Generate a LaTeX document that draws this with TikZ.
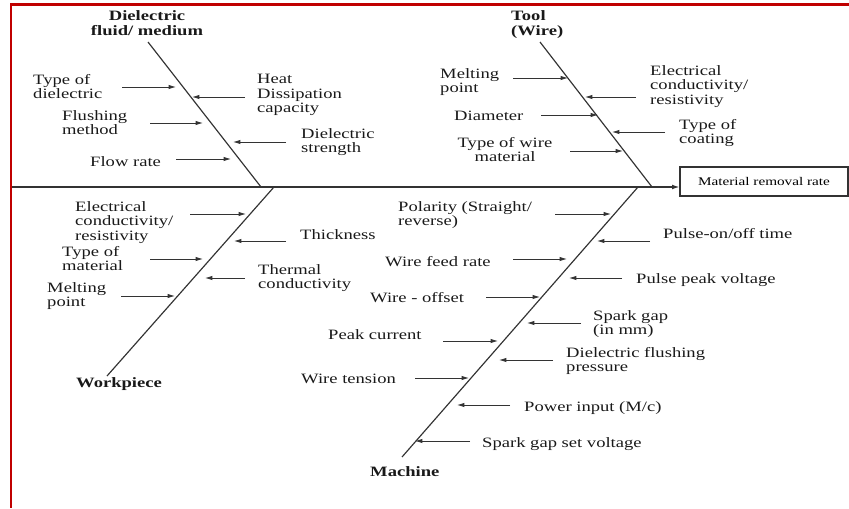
\documentclass[tikz,border=0pt]{standalone}
\usepackage{fontspec}
\setmainfont{Liberation Serif}[FakeStretch=1.3]
\usetikzlibrary{arrows.meta}
\definecolor{framered}{HTML}{C00000}
\definecolor{ink}{HTML}{333333}
\newcommand\causearrow[4]{%
  \coordinate (#1-s) at (#2,#4);
  \coordinate (#1-e) at (#3,#4);
  \draw[cause] (#1-s) -- (#1-e);}
\begin{document}
\begin{tikzpicture}[x=0.03cm,y=-0.03cm,
  lbl/.style={inner sep=0pt, anchor=north west, align=left, font=\fontsize{12.2}{12.4}\selectfont, text=black!90},
  lblc/.style={lbl, anchor=north, align=center},
  head/.style={lbl, font=\fontsize{12.2}{12.8}\selectfont\bfseries},
  headc/.style={head, anchor=north, align=center},
  bone/.style={draw=ink, line width=1pt},
  cause/.style={draw=ink, line width=0.7pt, -{Latex[length=2.2mm,width=1.3mm]}},
  frameline/.style={draw=framered, line width=1.8pt}]
\useasboundingbox (0,0) rectangle (849,508);
% frame
\coordinate (fr-tl) at (11,4.5);
\coordinate (fr-tr) at (849,4.5);
\coordinate (fr-bl) at (11,508);
\draw[frameline] (fr-tr) -- (fr-tl) -- (fr-bl);
% effect box and spine
\node[draw=ink, line width=0.9pt, minimum width=5.04cm, minimum height=0.87cm, inner sep=0pt,
      font=\fontsize{10}{12}\selectfont] (mrr) at (764,181.5) {Material removal rate};
\coordinate (tail) at (12,187);
\draw[bone, -{Latex[length=2.2mm,width=1.4mm]}] (tail) -- (tail -| mrr.west);
% bones
\coordinate (d1) at (148,42);  \coordinate (d2) at (261,187);
\coordinate (t1) at (540,42);  \coordinate (t2) at (652,187);
\coordinate (w1) at (274,187); \coordinate (w2) at (107,376);
\coordinate (m1) at (638,187); \coordinate (m2) at (402,457);
\draw[bone] (d1) -- (d2);
\draw[bone] (t1) -- (t2);
\draw[bone] (w1) -- (w2);
\draw[bone] (m1) -- (m2);
% headings
\node[headc] (hd) at (147,10) {Dielectric\\fluid/ medium};
\node[head] (ht) at (511,10) {Tool\\(Wire)};
\node[head] (hw) at (76,377) {Workpiece};
\node[head] (hm) at (370,466) {Machine};
% dielectric causes
\node[lbl] (d-type) at (33,74) {Type of\\dielectric};
\node[lbl] (d-heat) at (257,74) {Heat\\Dissipation\\capacity};
\node[lbl] (d-flush) at (62,110) {Flushing\\method};
\node[lbl] (d-str) at (301,128) {Dielectric\\strength};
\node[lbl] (d-flow) at (90,156) {Flow rate};
\causearrow{ad1}{122}{176}{87}
\causearrow{ad2}{245}{192}{97}
\causearrow{ad3}{150}{203}{123}
\causearrow{ad4}{286}{233}{142}
\causearrow{ad5}{176}{231}{159}
% tool causes
\node[lbl] (t-melt) at (440,68) {Melting\\point};
\node[lbl] (t-elec) at (650,65) {Electrical\\conductivity/\\resistivity};
\node[lbl] (t-dia) at (454,111) {Diameter};
\node[lbl] (t-coat) at (679,119) {Type of\\coating};
\node[lblc] (t-wire) at (505,137) {Type of wire\\material};
\causearrow{at1}{513}{568}{78}
\causearrow{at2}{636}{585}{97}
\causearrow{at3}{541}{598}{115}
\causearrow{at4}{665}{612}{132}
\causearrow{at5}{570}{623}{151}
% workpiece causes
\node[lbl] (w-elec) at (75,201) {Electrical\\conductivity/\\resistivity};
\node[lbl] (w-thick) at (300,229) {Thickness};
\node[lbl] (w-type) at (62,246) {Type of\\material};
\node[lbl] (w-therm) at (258,264) {Thermal\\conductivity};
\node[lbl] (w-melt) at (47,282) {Melting\\point};
\causearrow{aw1}{190}{246}{214}
\causearrow{aw2}{286}{234}{241}
\causearrow{aw3}{150}{203}{259}
\causearrow{aw4}{245}{205}{278}
\causearrow{aw5}{121}{175}{296}
% machine causes
\node[lbl] (m-pol) at (398,201) {Polarity (Straight/\\reverse)};
\node[lbl] (m-pon) at (663,228) {Pulse-on/off time};
\node[lbl] (m-feed) at (385,256) {Wire feed rate};
\node[lbl] (m-peakv) at (636,273) {Pulse peak voltage};
\node[lbl] (m-off) at (370,292) {Wire - offset};
\node[lbl] (m-gap) at (593,310) {Spark gap\\(in mm)};
\node[lbl] (m-peakc) at (328,329) {Peak current};
\node[lbl] (m-flush) at (566,347) {Dielectric flushing\\pressure};
\node[lbl] (m-tens) at (301,374) {Wire tension};
\node[lbl] (m-pow) at (524,401) {Power input (M/c)};
\node[lbl] (m-set) at (482,437) {Spark gap set voltage};
\causearrow{am1}{555}{611}{214}
\causearrow{am2}{650}{597}{241}
\causearrow{am3}{513}{567}{259}
\causearrow{am4}{622}{569}{278}
\causearrow{am5}{486}{540}{297}
\causearrow{am6}{581}{527}{323}
\causearrow{am7}{443}{498}{341}
\causearrow{am8}{553}{499}{360}
\causearrow{am9}{415}{469}{378}
\causearrow{am10}{510}{457}{405}
\causearrow{am11}{470}{415}{441}
\end{tikzpicture}
\end{document}
